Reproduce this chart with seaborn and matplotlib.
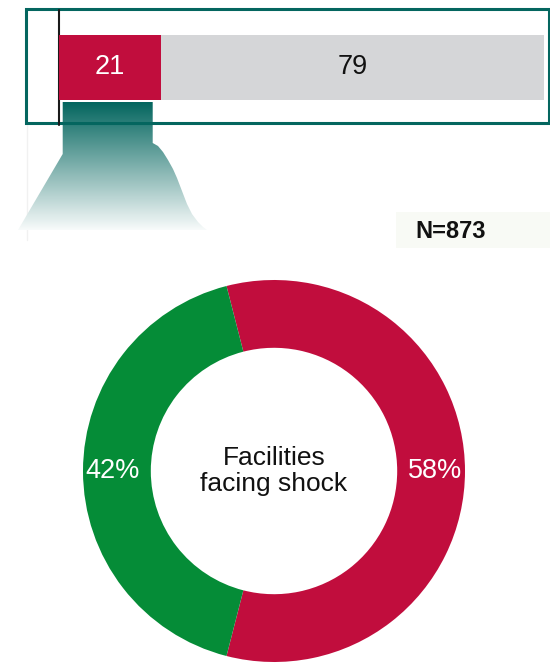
import numpy as np
import pandas as pd
import matplotlib
matplotlib.use("Agg")
import matplotlib.pyplot as plt
from matplotlib.patches import Rectangle, Polygon
from matplotlib.colors import LinearSegmentedColormap
import seaborn as sns

# ---- data ----
bar_segments = ["Facing shock", "Not facing shock"]
bar_values = [21, 79]
donut_segments = ["Facing shock", "Not facing shock"]
donut_values = [58, 42]
center_label = "Facilities\nfacing shock"
sample_note = "N=873"

RED = "#c10d3d"
GREY = "#d5d6d8"
GREEN = "#058c37"
TEAL = "#04665f"

sns.set_theme(style="white")
plt.rcParams["font.family"] = ["Liberation Sans", "DejaVu Sans"]

W, H = 550, 663
fig = plt.figure(figsize=(W / 100, H / 100), dpi=100)
fig.patch.set_facecolor("white")


def rect_px(x0, y0, x1, y1):
    """Pixel box (origin top-left) -> figure-fraction rect."""
    return [x0 / W, 1 - y1 / H, (x1 - x0) / W, (y1 - y0) / H]


# ---- overlay in pixel coordinates for the decorations ----
bg = fig.add_axes([0, 0, 1, 1])
bg.set_xlim(0, W)
bg.set_ylim(H, 0)
bg.axis("off")

# faint guide on the left below the frame
bg.plot([27, 27], [124, 240], color="#f1f1f1", linewidth=1, zorder=0)

# callout funnel with a teal-to-white gradient
funnel = [(62.7, 102), (152.7, 102), (152.7, 143), (158, 146), (163, 152),
          (168, 160), (173, 169), (177, 178), (182, 191), (187, 204),
          (192, 214), (198, 222), (203, 227), (207, 230), (18, 230),
          (62.7, 154)]
poly = Polygon(funnel, closed=True, facecolor="none", edgecolor="none")
bg.add_patch(poly)
fade = LinearSegmentedColormap.from_list("fade", [TEAL, "#ffffff"])
grad = np.linspace(0, 0.97, 256).reshape(-1, 1)
im = bg.imshow(grad, cmap=fade, vmin=0, vmax=1, aspect="auto",
               extent=(17, 208, 230, 102), origin="upper", zorder=1)
im.set_clip_path(poly)

# frame around the bar
bg.add_patch(Rectangle((26, 8.5), 523, 114, facecolor="none",
                       edgecolor=TEAL, linewidth=2.2, zorder=3))
bg.plot([58.8, 58.8], [10, 125], color="#1a1a1a", linewidth=1.5, zorder=4)

# sample size note
bg.add_patch(Rectangle((396, 212), 154, 36, facecolor="#f8faf5",
                       edgecolor="none", zorder=1))
bg.text(451, 231, sample_note, ha="center", va="center", fontsize=17,
        fontweight="bold", color="#111111", zorder=2)

# ---- stacked horizontal bar ----
ax_bar = fig.add_axes(rect_px(59, 35, 544, 100))
total = sum(bar_values)
sns.barplot(data=pd.DataFrame({"row": ["all"], "value": [total]}),
            x="value", y="row", color=GREY, saturation=1, width=1,
            linewidth=0, ax=ax_bar)
sns.barplot(data=pd.DataFrame({"row": ["all"], "value": [bar_values[0]]}),
            x="value", y="row", color=RED, saturation=1, width=1,
            linewidth=0, ax=ax_bar)
ax_bar.set_xlim(0, total)
ax_bar.set_ylim(0.5, -0.5)
ax_bar.axis("off")
left = 0
for val, col in zip(bar_values, ["white", "#111111"]):
    ax_bar.text(left + val / 2, 0, f"{val}", ha="center", va="center",
                fontsize=19.5, color=col)
    left += val

# ---- donut ----
ax_pie = fig.add_axes(rect_px(83, 280, 465, 662))
start = -360 * donut_values[0] / sum(donut_values) / 2
wedges, texts, autotexts = ax_pie.pie(
    donut_values, colors=[RED, GREEN], startangle=start, counterclock=True,
    wedgeprops=dict(width=0.355, linewidth=0),
    autopct=lambda p: f"{p:.0f}%", pctdistance=0.845,
    textprops=dict(color="white", fontsize=19.5))
ax_pie.set_xlim(-1, 1)
ax_pie.set_ylim(-1, 1)
ax_pie.set_aspect("equal")
ax_pie.axis("off")
ax_pie.text(0, 0, center_label, ha="center", va="center", fontsize=19,
            color="#111111", linespacing=1.1)

fig.savefig("out.png", dpi=100)
